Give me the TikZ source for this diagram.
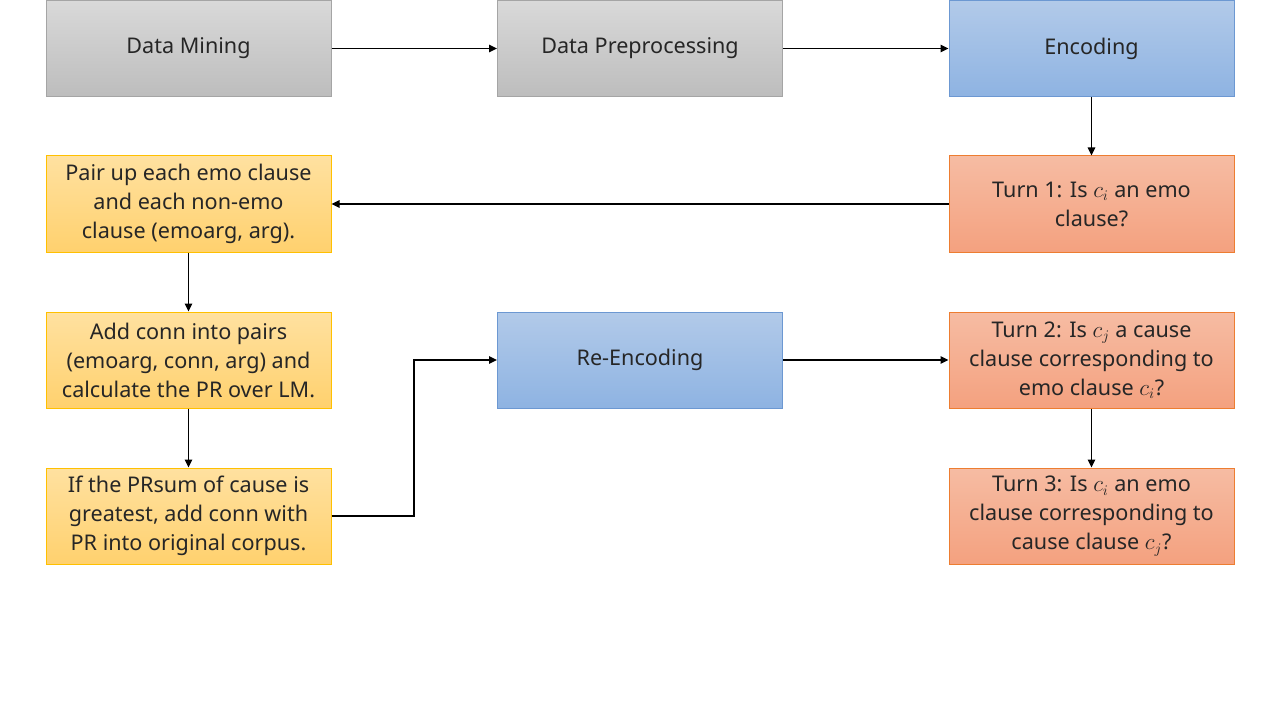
\documentclass[tikz,border=0pt]{standalone}
\usepackage{fontspec}
\setmainfont{Noto Sans}
\usetikzlibrary{arrows.meta}
\definecolor{grayT}{HTML}{D9D9D9}
\definecolor{grayB}{HTML}{BDBDBD}
\definecolor{grayE}{HTML}{A5A5A5}
\definecolor{blueT}{HTML}{B2CAE9}
\definecolor{blueB}{HTML}{8EB3E2}
\definecolor{blueE}{HTML}{6C98D2}
\definecolor{oraT}{HTML}{F6BCA3}
\definecolor{oraB}{HTML}{F4A17F}
\definecolor{oraE}{HTML}{ED7D31}
\definecolor{yelT}{HTML}{FFE1A0}
\definecolor{yelB}{HTML}{FFD16E}
\definecolor{yelE}{HTML}{FFC000}
\begin{document}
\begin{tikzpicture}[x=0.75pt,y=-0.75pt,
  box/.style={rectangle, minimum width=213.75pt, minimum height=72pt, inner sep=0pt,
    align=center, font=\fontsize{16.2}{21.75}\selectfont, text=black!85, line width=0.75pt},
  graybox/.style={box, draw=grayE, top color=grayT, bottom color=grayB},
  bluebox/.style={box, draw=blueE, top color=blueT, bottom color=blueB},
  orabox/.style={box, draw=oraE, top color=oraT, bottom color=oraB},
  yelbox/.style={box, draw=yelE, top color=yelT, bottom color=yelB},
  conn/.style={line width=1.3pt, -{Triangle[length=6pt,width=5.5pt]}}]
\useasboundingbox (0,0) rectangle (1280,720);
\fill[white] (0,0) rectangle (1280,720);
\node[graybox] (dm) at (188.5,48.5) {Data Mining};
\node[graybox] (dp) at (640,48.5) {Data Preprocessing};
\node[bluebox] (enc) at (1091.5,48.5) {Encoding};
\node[orabox] (t1) at (1091.5,204) {Turn 1: Is $c_i$ an emo\\clause?};
\node[yelbox] (pair) at (188.5,204) {Pair up each emo clause\\and each non-emo\\clause (emoarg, arg).};
\node[yelbox] (add) at (188.5,360) {Add conn into pairs\\(emoarg, conn, arg) and\\calculate the PR over LM.};
\node[yelbox] (if) at (188.5,516) {If the PRsum of cause is\\greatest, add conn with\\PR into original corpus.};
\node[bluebox] (re) at (640,360) {Re-Encoding};
\node[orabox] (t2) at (1091.5,360) {Turn 2: Is $c_j$ a cause\\clause corresponding to\\emo clause $c_i$?};
\node[orabox] (t3) at (1091.5,516) {Turn 3: Is $c_i$ an emo\\clause corresponding to\\cause clause $c_j$?};
\draw[conn] (dm) -- (dp);
\draw[conn] (dp) -- (enc);
\draw[conn] (enc) -- (t1);
\draw[conn] (t1) -- (pair);
\draw[conn] (pair) -- (add);
\draw[conn] (add) -- (if);
\coordinate (bend) at (414,516);
\draw[conn] (if.east) -- (bend) |- (re.west);
\draw[conn] (re) -- (t2);
\draw[conn] (t2) -- (t3);
\end{tikzpicture}
\end{document}
